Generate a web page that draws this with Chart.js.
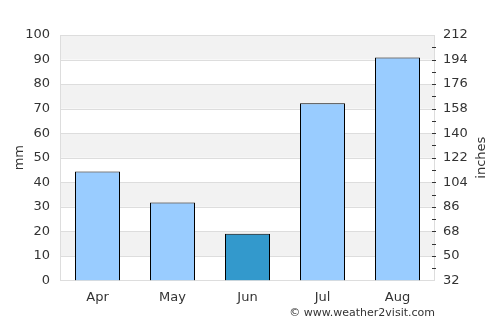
<!DOCTYPE html>
<html><head><meta charset="utf-8">
<script src="https://cdn.jsdelivr.net/npm/chart.js@4"></script>
<style>html,body{margin:0;padding:0;background:#fff}#wrap{width:500px;height:325px}</style>
</head><body><div id="wrap"><canvas id="c" width="500" height="325"></canvas></div>
<script>
const months = ["Apr", "May", "Jun", "Jul", "Aug"];
const rainfallMm = [44.4, 31.7, 19.0, 72.2, 90.8];
const barColors = ["#99ccff", "#99ccff", "#3399cc", "#99ccff", "#99ccff"];
const rightTicks = [32, 50, 68, 86, 104, 122, 140, 158, 176, 194, 212];
const creditText = "© www.weather2visit.com";
const leftTitle = "mm";
const rightTitle = "inches";

const bands = {
  id: 'bands',
  beforeDatasetsDraw(chart) {
    const {ctx, chartArea: a, scales: {y, y2}} = chart;
    ctx.save();
    for (let v = 90; v >= 10; v -= 20) {
      const top = y.getPixelForValue(v + 10), bot = y.getPixelForValue(v);
      ctx.fillStyle = '#f2f2f2';
      ctx.fillRect(a.left, top, a.right - a.left, bot - top);
    }
    ctx.strokeStyle = '#dddddd'; ctx.lineWidth = 1;
    for (let v = 0; v <= 100; v += 10) {
      const p = Math.round(y.getPixelForValue(v)) + 0.5;
      ctx.beginPath(); ctx.moveTo(a.left, p); ctx.lineTo(a.right, p); ctx.stroke();
    }
    ctx.beginPath();
    ctx.moveTo(Math.round(a.left) + 0.5, a.top); ctx.lineTo(Math.round(a.left) + 0.5, a.bottom);
    ctx.moveTo(Math.round(a.right) - 0.5, a.top); ctx.lineTo(Math.round(a.right) - 0.5, a.bottom);
    ctx.stroke();
    ctx.strokeStyle = '#333';
    for (let v = 41; v < 212; v += 9) {
      const p = Math.round(y2.getPixelForValue(v)) + 0.5;
      ctx.beginPath(); ctx.moveTo(a.right - 3, p); ctx.lineTo(a.right + 1, p); ctx.stroke();
    }
    ctx.restore();
  },
  afterDraw(chart) {
    const {ctx, chartArea: a} = chart;
    ctx.save();
    ctx.fillStyle = '#333';
    ctx.font = '11px "DejaVu Sans"';
    ctx.textAlign = 'right';
    ctx.textBaseline = 'middle';
    ctx.fillText(creditText, a.right, 313);
    ctx.font = '13px "DejaVu Sans"';
    ctx.textAlign = 'center';
    const cy = (a.top + a.bottom) / 2;
    ctx.save(); ctx.translate(20, cy); ctx.rotate(-Math.PI / 2); ctx.fillText(leftTitle, 0, 0); ctx.restore();
    ctx.save(); ctx.translate(482, cy); ctx.rotate(-Math.PI / 2); ctx.fillText(rightTitle, 0, 0); ctx.restore();
    ctx.restore();
  }
};

new Chart(document.getElementById('c'), {
  type: 'bar',
  data: {
    labels: months,
    datasets: [{
      data: rainfallMm,
      backgroundColor: barColors,
      borderColor: '#000',
      borderWidth: 1,
      borderSkipped: 'bottom',
      barPercentage: 0.6,
      categoryPercentage: 1,
      yAxisID: 'y'
    }]
  },
  options: {
    responsive: false,
    animation: false,
    layout: {padding: {top: 35, right: 0, bottom: 11, left: 0}},
    plugins: {legend: {display: false}, tooltip: {enabled: false}},
    scales: {
      x: {
        grid: {display: false, drawTicks: false},
        border: {display: false},
        ticks: {font: {family: 'DejaVu Sans', size: 13}, color: '#333', padding: 9}
      },
      y: {
        position: 'left',
        min: 0, max: 100,
        afterFit(s) { s.width = 60; },
        ticks: {stepSize: 10, font: {family: 'DejaVu Sans', size: 13}, color: '#333', padding: 10},
        grid: {display: false, drawTicks: false},
        border: {display: false}
      },
      y2: {
        position: 'right',
        min: 32, max: 212,
        afterFit(s) { s.width = 65; },
        afterBuildTicks(s) {
          s.ticks = rightTicks.map(v => ({value: v}));
        },
        ticks: {font: {family: 'DejaVu Sans', size: 13}, color: '#333', padding: 8},
        grid: {display: false, drawTicks: false},
        border: {display: false}
      }
    }
  },
  plugins: [bands]
});
</script>
</body></html>
